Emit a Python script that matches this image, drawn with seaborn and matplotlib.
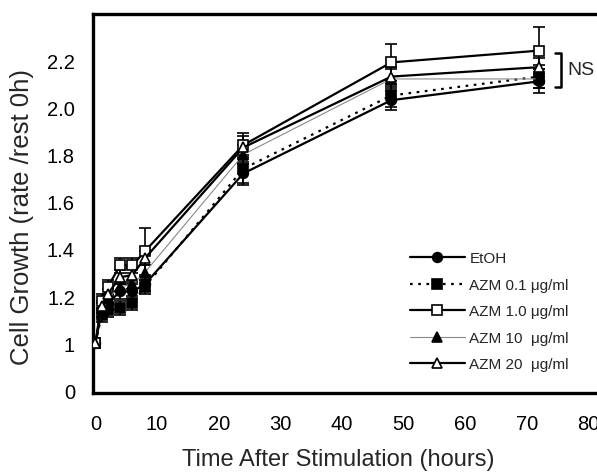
import numpy as np
import pandas as pd
import matplotlib
matplotlib.use("Agg")
import matplotlib.pyplot as plt
import seaborn as sns

# Time points (hours) and group means / errors
hours = [0, 1, 2, 4, 6, 8, 24, 48, 72]

etoh = [1.0, 1.14, 1.17, 1.22, 1.22, 1.25, 1.72, 2.03, 2.11]
azm_01 = [1.0, 1.12, 1.14, 1.15, 1.17, 1.24, 1.74, 2.05, 2.13]
azm_10 = [1.0, 1.18, 1.24, 1.33, 1.33, 1.39, 1.84, 2.19, 2.24]
azm_100 = [1.0, 1.15, 1.19, 1.24, 1.25, 1.30, 1.80, 2.12, 2.12]
azm_200 = [1.0, 1.16, 1.21, 1.28, 1.29, 1.36, 1.83, 2.13, 2.17]

etoh_err = [0.0, 0.03, 0.03, 0.03, 0.03, 0.03, 0.05, 0.04, 0.05]
azm_01_err = [0.0, 0.03, 0.03, 0.03, 0.03, 0.03, 0.06, 0.05, 0.05]
azm_10_err = [0.0, 0.03, 0.03, 0.03, 0.03, 0.10, 0.05, 0.08, 0.10]
azm_100_err = [0.0, 0.02, 0.02, 0.02, 0.02, 0.03, 0.04, 0.04, 0.04]
azm_200_err = [0.0, 0.02, 0.02, 0.03, 0.03, 0.03, 0.05, 0.04, 0.04]

labels = ["EtOH", "AZM 0.1 \u03bcg/ml", "AZM 1.0 \u03bcg/ml",
          "AZM 10  \u03bcg/ml", "AZM 20  \u03bcg/ml"]

y_ticks = [0.8, 1.0, 1.2, 1.4, 1.6, 1.8, 2.0, 2.2]
y_ticklabels = ["0", "1", "1.2", "1.4", "1.6", "1.8", "2.0", "2.2"]
x_ticks = [0, 10, 20, 30, 40, 50, 60, 70, 80]

sns.set_theme(style="white")
plt.rcParams["font.family"] = ["Liberation Sans", "DejaVu Sans"]

fig = plt.figure(figsize=(5.97, 4.77), dpi=100)
ax = fig.add_axes([93 / 597, 83 / 477, 527 / 597, 379 / 477])

series = [
    (etoh, etoh_err, dict(color="black", linestyle="-", lw=1.6, marker="o", mfc="black")),
    (azm_01, azm_01_err, dict(color="black", linestyle=(0, (1.2, 2.5)), lw=1.6, marker="s", mfc="black")),
    (azm_10, azm_10_err, dict(color="black", linestyle="-", lw=1.6, marker="s", mfc="white")),
    (azm_100, azm_100_err, dict(color="#8a8a8a", linestyle="-", lw=0.8, marker="^", mfc="black")),
    (azm_200, azm_200_err, dict(color="black", linestyle="-", lw=1.6, marker="^", mfc="white")),
]

for (vals, err, st), lab in zip(series, labels):
    ax.errorbar(hours, vals, yerr=err, fmt="none", ecolor="black",
                elinewidth=1.2, capsize=4, capthick=1.2, zorder=2)
    sns.lineplot(x=hours, y=vals, ax=ax, label=lab, color=st["color"],
                 linestyle=st["linestyle"], lw=st["lw"], marker=st["marker"],
                 markersize=7, markerfacecolor=st["mfc"],
                 markeredgecolor="black", markeredgewidth=1.2, zorder=3)

# NS bracket
ax.plot([74.6, 75.5, 75.5, 74.6], [2.23, 2.23, 2.087, 2.087], color="black", lw=1.8,
        clip_on=False)
ax.text(76.5, 2.16, "NS", fontsize=14, va="center", ha="left")

ax.set_xlim(-0.4, 85.1)
ax.set_ylim(0.79, 2.395)
ax.set_yticks(y_ticks)
ax.set_yticklabels(y_ticklabels)
ax.set_xticks(x_ticks)
ax.tick_params(axis="both", direction="in", length=4, width=2, labelsize=14.5,
               color="black", labelcolor="black")
ax.tick_params(axis="y", pad=13)
ax.tick_params(axis="x", pad=15)

for side in ["left", "bottom", "top", "right"]:
    ax.spines[side].set_color("black")
    ax.spines[side].set_linewidth(2.4)

ax.set_xlabel("Time After Stimulation (hours)", fontsize=17)
ax.set_ylabel("Cell Growth (rate /rest 0h)", fontsize=18.5)
ax.xaxis.set_label_coords(0.465, -0.145)
ax.yaxis.set_label_coords(-0.112, 0.466)

ax.legend(loc="upper left", bbox_to_anchor=(0.575, 0.41), frameon=False,
          fontsize=11, handlelength=3.6, handletextpad=0.3, labelspacing=0.82)

plt.savefig("out.png", dpi=100)
